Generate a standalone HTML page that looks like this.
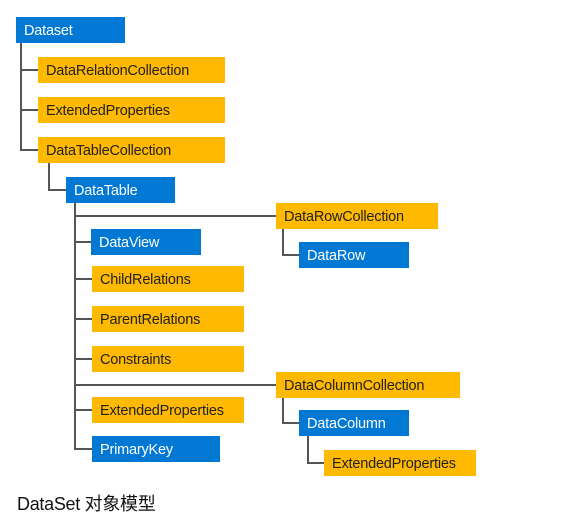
<!DOCTYPE html>
<html><head><meta charset="utf-8"><style>
body{margin:0;width:580px;height:522px;background:#fff;position:relative;overflow:hidden;font-family:"Liberation Sans","Noto Sans CJK SC",sans-serif}
.b{position:absolute;height:26px;line-height:28px;font-size:14.5px;padding-left:8px;box-sizing:border-box;white-space:nowrap;letter-spacing:-0.2px;overflow:hidden}
.bl{background:#0078d4;color:#fff}
.or{background:#ffb900;color:#222}
.l{position:absolute;background:#555}
.h{height:2px}.v{width:2px}
.cap{position:absolute;left:17px;top:490px;font-size:18px;color:#111;letter-spacing:-0.3px}
</style></head><body>
<div class="l v" style="left:20px;top:43px;height:108px"></div>
<div class="l h" style="left:20px;top:69px;width:18px"></div>
<div class="l h" style="left:20px;top:109px;width:18px"></div>
<div class="l h" style="left:20px;top:149px;width:18px"></div>
<div class="l v" style="left:48px;top:163px;height:28px"></div>
<div class="l h" style="left:48px;top:189px;width:18px"></div>
<div class="l v" style="left:74px;top:203px;height:247px"></div>
<div class="l h" style="left:74px;top:215px;width:202px"></div>
<div class="l h" style="left:74px;top:241px;width:17px"></div>
<div class="l h" style="left:74px;top:278px;width:18px"></div>
<div class="l h" style="left:74px;top:318px;width:18px"></div>
<div class="l h" style="left:74px;top:358px;width:18px"></div>
<div class="l h" style="left:74px;top:384px;width:202px"></div>
<div class="l h" style="left:74px;top:409px;width:18px"></div>
<div class="l h" style="left:74px;top:448px;width:18px"></div>
<div class="l v" style="left:282px;top:229px;height:26px"></div>
<div class="l h" style="left:282px;top:254px;width:17px"></div>
<div class="l v" style="left:282px;top:398px;height:25px"></div>
<div class="l h" style="left:282px;top:422px;width:17px"></div>
<div class="l v" style="left:307px;top:436px;height:27px"></div>
<div class="l h" style="left:307px;top:462px;width:17px"></div>

<div class="b bl" style="left:16px;top:17px;width:109px">Dataset</div>
<div class="b or" style="left:38px;top:57px;width:187px">DataRelationCollection</div>
<div class="b or" style="left:38px;top:97px;width:187px">ExtendedProperties</div>
<div class="b or" style="left:38px;top:137px;width:187px">DataTableCollection</div>
<div class="b bl" style="left:66px;top:177px;width:109px">DataTable</div>
<div class="b or" style="left:276px;top:203px;width:162px">DataRowCollection</div>
<div class="b bl" style="left:299px;top:242px;width:110px">DataRow</div>
<div class="b bl" style="left:91px;top:229px;width:110px">DataView</div>
<div class="b or" style="left:92px;top:266px;width:152px">ChildRelations</div>
<div class="b or" style="left:92px;top:306px;width:152px">ParentRelations</div>
<div class="b or" style="left:92px;top:346px;width:152px">Constraints</div>
<div class="b or" style="left:276px;top:372px;width:184px">DataColumnCollection</div>
<div class="b or" style="left:92px;top:397px;width:152px">ExtendedProperties</div>
<div class="b bl" style="left:92px;top:436px;width:128px">PrimaryKey</div>
<div class="b bl" style="left:299px;top:410px;width:110px">DataColumn</div>
<div class="b or" style="left:324px;top:450px;width:152px">ExtendedProperties</div>
<div class="cap">DataSet 对象模型</div>
</body></html>
